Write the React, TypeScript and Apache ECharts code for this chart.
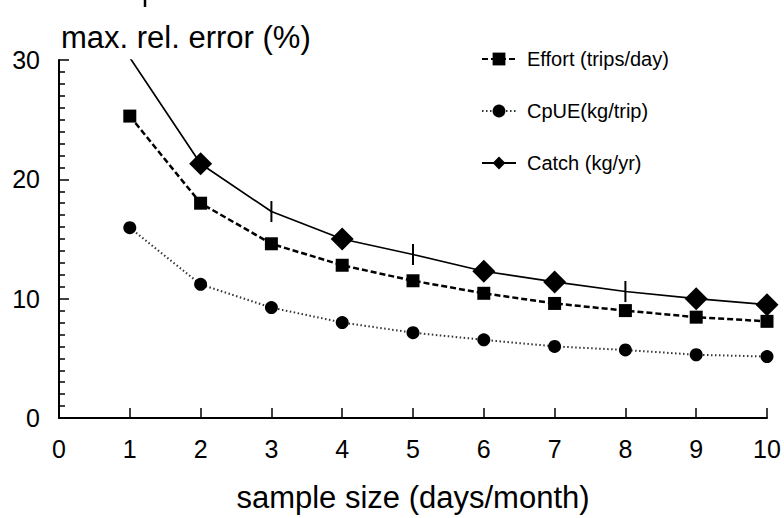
import React, { useEffect, useRef } from "react";
import * as echarts from "echarts";

const sampleSizes = [1, 2, 3, 4, 5, 6, 7, 8, 9, 10];
const effortValues = [25.3, 18.0, 14.6, 12.8, 11.5, 10.45, 9.6, 9.0, 8.45, 8.1];
const cpueValues = [15.95, 11.2, 9.25, 8.0, 7.15, 6.55, 6.0, 5.7, 5.3, 5.15];
const catchValues = [30.2, 21.3, 17.3, 15.0, 13.7, 12.3, 11.4, 10.6, 10.0, 9.5];
// markers used on the Catch curve: d = diamond, b = vertical bar, n = none
const catchMarkers = ["n", "d", "b", "d", "b", "d", "d", "b", "d", "d"];
const seriesNames = ["Effort (trips/day)", "CpUE(kg/trip)", "Catch (kg/yr)"];
const xTicks = [0, 10, 1];
const yTicks = [0, 30, 10];

const FONT = "'Liberation Sans', Arial, sans-serif";

export default function App() {
  const ref = useRef<HTMLDivElement>(null);
  useEffect(() => {
    if (!ref.current) return;
    const chart = echarts.init(ref.current, undefined, { renderer: "svg" });
    const catchData = sampleSizes.map((x, i) => {
      const m = catchMarkers[i];
      if (m === "n") return { value: [x, catchValues[i]], symbol: "none" };
      if (m === "b") return { value: [x, catchValues[i]], symbol: "rect", symbolSize: [2, 21] };
      return { value: [x, catchValues[i]] };
    });
    chart.setOption({
      animation: false,
      textStyle: { fontFamily: FONT, color: "#000" },
      grid: { left: 59, right: 17, top: 60, bottom: 100, outerBoundsMode: "none" },
      legend: {
        orient: "vertical",
        left: 476,
        top: 44,
        itemWidth: 34,
        itemHeight: 16,
        itemGap: 32,
        data: seriesNames,
        textStyle: { fontFamily: FONT, fontSize: 20, color: "#000", padding: [0, 0, 0, 6] },
      },
      graphic: [
        {
          type: "line",
          shape: { x1: 145, y1: 0, x2: 145, y2: 7 },
          style: { stroke: "#000", lineWidth: 2.5 },
        },
      ],
      xAxis: {
        type: "value",
        min: xTicks[0],
        max: xTicks[1],
        interval: xTicks[2],
        name: "sample size (days/month)",
        nameLocation: "middle",
        nameGap: 64,
        nameMoveOverlap: false,
        nameTextStyle: { fontFamily: FONT, fontSize: 31, color: "#000" },
        axisLine: { lineStyle: { color: "#000", width: 2 } },
        axisTick: { inside: true, length: 10, lineStyle: { color: "#000", width: 1.5 } },
        axisLabel: { fontFamily: FONT, fontSize: 25, color: "#000", margin: 18 },
        splitLine: { show: false },
      },
      yAxis: {
        type: "value",
        min: yTicks[0],
        max: yTicks[1],
        interval: yTicks[2],
        name: "max. rel. error (%)",
        nameLocation: "end",
        nameGap: 7,
        nameMoveOverlap: false,
        nameTextStyle: { fontFamily: FONT, fontSize: 31, color: "#000", align: "left", padding: [0, 0, 0, 2] },
        axisLine: { show: true, lineStyle: { color: "#000", width: 2 } },
        axisTick: { show: true, inside: true, length: 10, lineStyle: { color: "#000", width: 1.5 } },
        minorTick: { show: true, splitNumber: 10, length: 6, lineStyle: { color: "#000", width: 1.5 } },
        axisLabel: { fontFamily: FONT, fontSize: 25, color: "#000", margin: 19 },
        splitLine: { show: false },
        minorSplitLine: { show: false },
      },
      series: [
        {
          name: seriesNames[0],
          type: "line",
          data: sampleSizes.map((x, i) => [x, effortValues[i]]),
          symbol: "rect",
          symbolSize: 13,
          itemStyle: { color: "#000" },
          lineStyle: { color: "#000", width: 2.5, type: [6, 3] },
          z: 3,
        },
        {
          name: seriesNames[1],
          type: "line",
          data: sampleSizes.map((x, i) => [x, cpueValues[i]]),
          symbol: "circle",
          symbolSize: 13,
          itemStyle: { color: "#000" },
          lineStyle: { color: "#333", width: 2, type: [1.5, 2.5] },
          z: 3,
        },
        {
          name: seriesNames[2],
          type: "line",
          data: catchData,
          symbol: "diamond",
          symbolSize: 23,
          clip: true,
          itemStyle: { color: "#000" },
          lineStyle: { color: "#000", width: 1.7 },
          z: 4,
        },
      ],
    });
    return () => chart.dispose();
  }, []);
  return (
    <div
      ref={ref}
      style={{ position: "fixed", left: 0, top: 0, width: 784, height: 518, background: "#fff" }}
    />
  );
}
